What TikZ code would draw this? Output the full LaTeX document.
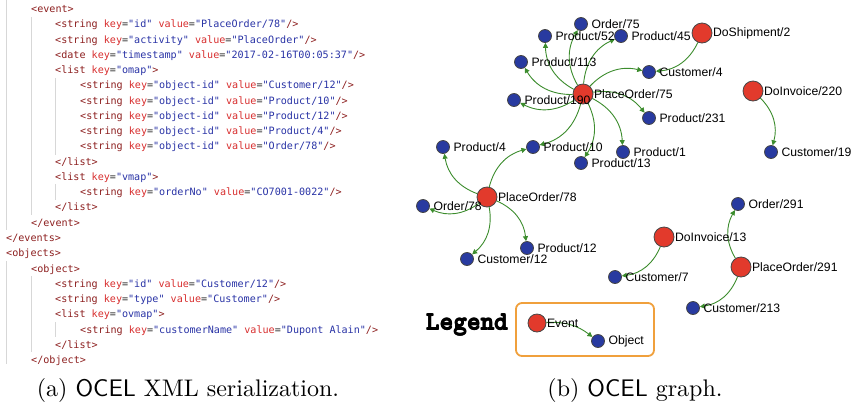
\documentclass[tikz,border=0pt]{standalone}
\usepackage{fontspec}
\usetikzlibrary{arrows.meta}
\newfontfamily\codefont{DejaVu Sans Mono}
\newfontfamily\graphfont{Liberation Sans}
\definecolor{xtag}{RGB}{140,30,30}
\definecolor{xattr}{RGB}{215,45,45}
\definecolor{xval}{RGB}{40,50,165}
\definecolor{xeq}{RGB}{45,45,45}
\definecolor{guide}{RGB}{215,215,215}
\definecolor{evred}{RGB}{226,58,44}
\definecolor{obblue}{RGB}{40,58,160}
\definecolor{nodeborder}{RGB}{70,70,70}
\definecolor{edgegreen}{RGB}{60,140,45}
\definecolor{legorange}{RGB}{240,160,60}
\newcommand\xt[1]{\textcolor{xtag}{#1}}
\newcommand\kv[2]{\textcolor{xattr}{#1}\textcolor{xeq}{=}\textcolor{xval}{"#2"}}
\newcommand\heavytext[1]{\rlap{#1}\rlap{\raisebox{0.5pt}{#1}}\kern0.7pt\rlap{\raisebox{0.5pt}{#1}}#1}
\pgfdeclarelayer{edgelayer}
\pgfsetlayers{edgelayer,main}
\tikzset{
  code/.style={anchor=base west, inner sep=0, font=\codefont\fontsize{10.1}{12}\selectfont},
  guideline/.style={draw=guide, line width=0.8},
  lbl/.style={font=\graphfont\fontsize{12.2}{14}\selectfont, inner sep=0, text=black},
  ob/.style={circle, draw=nodeborder, fill=obblue, line width=0.8, minimum size=13, inner sep=0},
  ev/.style={circle, draw=nodeborder, fill=evred, line width=0.8, minimum size=20, inner sep=0},
  obl/.style={ob, label={[lbl,label distance=3.5]0:#1}},
  evl/.style={ev, label={[lbl,label distance=0.5]0:#1}},
  edge/.style={draw=edgegreen, line width=0.9, -{Triangle[length=5pt,width=5pt]}, bend left=30},
  capt/.style={scale=2.4, transform shape, inner sep=0, font=\fontsize{10}{12}\selectfont},
  legbox/.style={draw=legorange, line width=1.8, rounded corners=6, minimum width=138, minimum height=53, inner sep=0}
}
\begin{document}
\begin{tikzpicture}[x=1pt,y=-1pt]
\useasboundingbox (0,0) rectangle (851,408);
% indentation guides
\draw[guideline] (6,0) -- (6,230);
\draw[guideline] (31,17) -- (31,215);
\draw[guideline] (55,78) -- (55,155);
\draw[guideline] (55,184) -- (55,200);
\draw[guideline] (6,261) -- (6,364);
\draw[guideline] (31,276) -- (31,352);
\draw[guideline] (55,322) -- (55,337);
% XML code
\node[code] (c1) at (31,12.6) {\xt{<event>}};
\node[code] (c2) at (55,27.86) {\xt{<string} \kv{key}{id} \kv{value}{PlaceOrder/78}\xt{/>}};
\node[code] (c3) at (55,43.12) {\xt{<string} \kv{key}{activity} \kv{value}{PlaceOrder}\xt{/>}};
\node[code] (c4) at (55,58.38) {\xt{<date} \kv{key}{timestamp} \kv{value}{2017-02-16T00:05:37}\xt{/>}};
\node[code] (c5) at (55,73.64) {\xt{<list} \kv{key}{omap}\xt{>}};
\node[code] (c6) at (80,88.9) {\xt{<string} \kv{key}{object-id} \kv{value}{Customer/12}\xt{/>}};
\node[code] (c7) at (80,104.16) {\xt{<string} \kv{key}{object-id} \kv{value}{Product/10}\xt{/>}};
\node[code] (c8) at (80,119.42) {\xt{<string} \kv{key}{object-id} \kv{value}{Product/12}\xt{/>}};
\node[code] (c9) at (80,134.68) {\xt{<string} \kv{key}{object-id} \kv{value}{Product/4}\xt{/>}};
\node[code] (c10) at (80,149.94) {\xt{<string} \kv{key}{object-id} \kv{value}{Order/78}\xt{/>}};
\node[code] (c11) at (55,165.2) {\xt{</list>}};
\node[code] (c12) at (55,180.46) {\xt{<list} \kv{key}{vmap}\xt{>}};
\node[code] (c13) at (80,195.72) {\xt{<string} \kv{key}{orderNo} \kv{value}{CO7001-0022}\xt{/>}};
\node[code] (c14) at (55,210.98) {\xt{</list>}};
\node[code] (c15) at (31,226.24) {\xt{</event>}};
\node[code] (c16) at (6,241.5) {\xt{</events>}};
\node[code] (c17) at (6,256.76) {\xt{<objects>}};
\node[code] (c18) at (31,272.02) {\xt{<object>}};
\node[code] (c19) at (55,287.28) {\xt{<string} \kv{key}{id} \kv{value}{Customer/12}\xt{/>}};
\node[code] (c20) at (55,302.54) {\xt{<string} \kv{key}{type} \kv{value}{Customer}\xt{/>}};
\node[code] (c21) at (55,317.8) {\xt{<list} \kv{key}{ovmap}\xt{>}};
\node[code] (c22) at (80,333.06) {\xt{<string} \kv{key}{customerName} \kv{value}{Dupont Alain}\xt{/>}};
\node[code] (c23) at (55,348.32) {\xt{</list>}};
\node[code] (c24) at (31,363.58) {\xt{</object>}};
% graph nodes
\node[evl=PlaceOrder/75] (po75) at (583,94) {};
\node[obl=Order/75] (o75) at (581,24) {};
\node[obl=Product/52] (p52) at (545,36) {};
\node[obl=Product/45] (p45) at (621,36) {};
\node[obl=Product/113] (p113) at (521,62) {};
\node[obl=Customer/4] (cu4) at (649,72) {};
\node[obl=Product/190] (p190) at (514,100) {};
\node[obl=Product/231] (p231) at (649,118) {};
\node[obl=Product/10] (p10) at (533,147) {};
\node[obl=Product/1] (p1) at (623,152) {};
\node[obl=Product/13] (p13) at (581,163) {};
\node[evl=DoShipment/2] (ds2) at (702,33) {};
\node[evl=DoInvoice/220] (di220) at (753,91) {};
\node[obl=Customer/19] (cu19) at (771,152) {};
\node[evl=PlaceOrder/78] (po78) at (487,197) {};
\node[obl=Product/4] (p4) at (443,147) {};
\node[obl=Order/78] (o78) at (423,206) {};
\node[obl=Product/12] (p12) at (527,248) {};
\node[obl=Customer/12] (cu12) at (467,259) {};
\node[obl=Order/291] (o291) at (738,204) {};
\node[evl=DoInvoice/13] (di13) at (664,237) {};
\node[obl=Customer/7] (cu7) at (615,277) {};
\node[evl=PlaceOrder/291] (po291) at (741,267) {};
\node[obl=Customer/213] (cu213) at (693,308) {};
% legend
\node[font=\ttfamily\bfseries\fontsize{26}{28}\selectfont, inner sep=0] (legtitle) at (467,325) {\heavytext{Legend}};
\node[legbox] (legendbox) at (585,329.5) {};
\node[ev, minimum size=18, label={[lbl,label distance=0.5]0:Event}] (legev) at (537,323) {};
\node[obl=Object] (legob) at (598,341) {};
% edges
\begin{pgfonlayer}{edgelayer}
\foreach \t in {o75,p52,p45,p113,cu4,p190,p231,p10,p1,p13}
  \draw[edge] (po75) to (\t);
\foreach \t in {p4,p10,o78,p12,cu12}
  \draw[edge] (po78) to (\t);
\draw[edge] (ds2) to (cu4);
\draw[edge] (di220) to (cu19);
\draw[edge] (di13) to (cu7);
\draw[edge] (po291) to (o291);
\draw[edge] (po291) to (cu213);
\draw[edge, bend left=20] (legev) to (legob);
\end{pgfonlayer}
% captions
\node[capt] (capa) at (188,390) {(a) \textsf{OCEL} XML serialization.};
\node[capt] (capb) at (635,390) {(b) \textsf{OCEL} graph.};
\end{tikzpicture}
\end{document}
